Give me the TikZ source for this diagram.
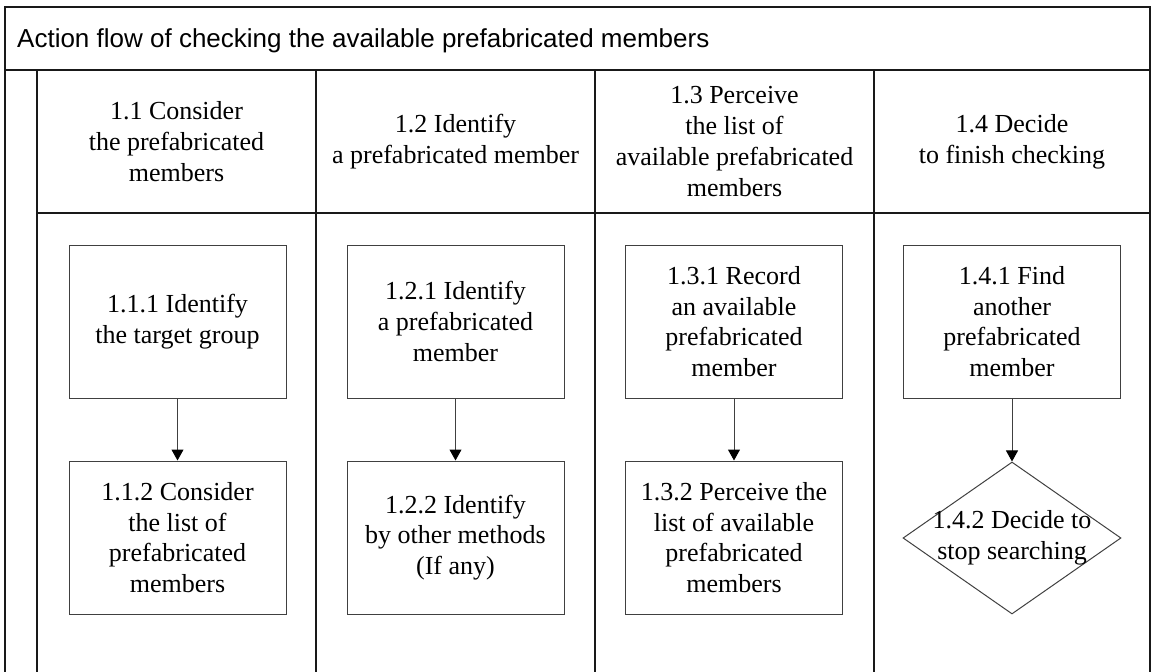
\documentclass[tikz,border=0pt]{standalone}
\usepackage{fontspec}
\setmainfont{Liberation Serif}
\setsansfont{Liberation Sans}
\usetikzlibrary{arrows.meta,shapes.geometric}

\tikzset{
  frame/.style={line width=2pt, draw=black!90},
  lbl/.style={align=center, inner sep=0pt, font=\fontsize{26}{30.7}\selectfont},
  stepbox/.style={draw=black!75, line width=1pt, minimum width=217pt, minimum height=153pt,
                  inner sep=0pt, align=center, font=\fontsize{26}{30.7}\selectfont},
  decide/.style={shape=diamond, draw=black!75, line width=1pt, minimum width=218pt,
                 minimum height=152pt, inner sep=0pt},
  flow/.style={draw=black!75, line width=1pt,
               -{Triangle[length=11pt,width=12pt,color=black]}}
}

\begin{document}
\begin{tikzpicture}[x=1pt,y=-1pt]
\useasboundingbox (0,0) rectangle (1152,672);

% pool frame, title row and lanes
\draw[frame] (5,672) -- (5,7) -- (1150,7) -- (1150,672);
\draw[frame] (5,70) -- (1150,70);
\draw[frame] (37,70) -- (37,672);
\draw[frame] (316,70) -- (316,672);
\draw[frame] (595,70) -- (595,672);
\draw[frame] (874,70) -- (874,672);
\draw[frame] (37,213) -- (1150,213);

\node[anchor=base west, inner sep=0pt, font=\sffamily\fontsize{26}{30}\selectfont]
  (title) at (17,47) {Action flow of checking the available prefabricated members};

% lane headers
\node[lbl] (h1) at (176.5,141.5) {1.1 Consider\\the prefabricated\\members};
\node[lbl] (h2) at (455.5,141.5) {1.2 Identify\\a prefabricated member};
\node[lbl] (h3) at (734.5,141.5) {1.3 Perceive\\the list of\\available prefabricated\\members};
\node[lbl] (h4) at (1012,141.5) {1.4 Decide\\to finish checking};

% activities
\node[stepbox] (a111) at (177.5,321.5) {1.1.1 Identify\\the target group};
\node[stepbox] (a112) at (177.5,537.5) {1.1.2 Consider\\the list of\\prefabricated\\members};
\node[stepbox] (a121) at (455.5,321.5) {1.2.1 Identify\\a prefabricated\\member};
\node[stepbox] (a122) at (455.5,537.5) {1.2.2 Identify\\by other methods\\(If any)};
\node[stepbox] (a131) at (734,321.5) {1.3.1 Record\\an available\\prefabricated\\member};
\node[stepbox] (a132) at (734,537.5) {1.3.2 Perceive the\\list of available\\prefabricated\\members};
\node[stepbox] (a141) at (1012,321.5) {1.4.1 Find\\another\\prefabricated\\member};
\node[decide, label={[lbl]center:{1.4.2 Decide to\\stop searching}}] (a142) at (1012,538) {};

% flows
\draw[flow] (a111) -- (a112);
\draw[flow] (a121) -- (a122);
\draw[flow] (a131) -- (a132);
\draw[flow] (a141) -- (a142);
\end{tikzpicture}
\end{document}
